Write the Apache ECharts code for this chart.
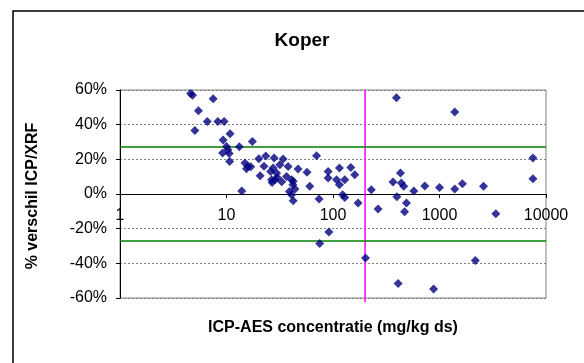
<!DOCTYPE html>
<html><head><meta charset="utf-8">
<script src="https://cdn.jsdelivr.net/npm/echarts@6/dist/echarts.min.js"></script>
<style>html,body{margin:0;padding:0;background:#fff}#c{width:584px;height:363px}</style>
</head><body><div id="c"></div>
<script>
// ICP-AES concentration (mg/kg ds)
const icpConc = [4.6,4.8,5.45,5.05,7.5,6.6,8.3,9.5,10.8,9.3,10.0,9.2,10.3,10.6,10.7,13.2,17.5,14.9,15.9,16.9,15.4,20.1,23.4,20.7,13.9,28,34,22.5,27.4,29.5,37.9,47,57,28.5,36.6,42.3,44,60.5,70,90,115,90,108,129,42.3,74,129,40.8,31.7,39,147,160,115,123,172,229,265,366,430,438,462,398,490,470,574,728,1000,394,1390,7540,7540,1390,1640,2590,3380,2170,409,880,91.5,75,202,26.5,26,30,33,42,40.8,26.8];
// % verschil ICP/XRF
const pctDiff = [58,57,48,36.7,54.9,41.8,41.8,41.8,34.7,31.2,27.4,23.6,25.5,23.4,18.8,27.3,30.3,17.9,16.0,15.7,14.6,20.3,21.9,10.5,1.8,20.7,20.2,16,15,12.1,15.9,14.4,12.5,8.2,10.1,7.3,2.9,4.4,22,13,15,9.2,8.2,8.2,-3.9,-2.9,-2,-0.5,16.9,1.5,15.3,11.1,5.4,-0.4,-5.2,2.5,-8.6,6.9,12.1,6.4,4.4,-1.6,-5.2,-10.3,1.7,4.6,3.7,55.5,47.3,20.7,8.8,2.9,5.9,4.4,-11.4,-38.3,-51.7,-54.8,-21.9,-28.6,-36.9,8.2,13,9.5,7,5.4,8.2,6.7];
const limits = [27, -27];          // green limit lines (%)
const thresholdConc = 200;          // magenta vertical line
const thresholdSpan = [60, -62.5];
const yTicks = [-60, -40, -20, 0, 20, 40, 60];
const xTicks = [1, 10, 100, 1000, 10000];

const points = icpConc.map((c, i) => [c, pctDiff[i]]);
const chart = echarts.init(document.getElementById('c'));
const FONT = 'Arial, "Liberation Sans", sans-serif';
const GRID_TOP = 90, GRID_H = 208;
const yMin = yTicks[0], yMax = yTicks[yTicks.length - 1];
// move the x axis up to the 0% line
const zeroOffset = -GRID_H * (0 - yMin) / (yMax - yMin);
chart.setOption({
  animation: false,
  backgroundColor: '#fff',
  grid: {left: 120, top: GRID_TOP, width: 426, height: GRID_H, show: true, borderColor: '#808080', borderWidth: 1, backgroundColor: 'transparent'},
  xAxis: {
    type: 'log', logBase: 10, min: xTicks[0], max: xTicks[xTicks.length - 1],
    position: 'bottom', offset: zeroOffset,
    axisLine: {onZero: false, lineStyle: {color: '#000', width: 1}},
    axisTick: {show: true, length: 4, lineStyle: {color: '#000'}},
    axisLabel: {color: '#000', fontFamily: FONT, fontSize: 16, margin: 14, showMinLabel: true, showMaxLabel: true, hideOverlap: false,
      formatter: v => String(Math.round(v))},
    splitLine: {show: false}, minorTick: {show: false}
  },
  yAxis: {
    type: 'value', min: yMin, max: yMax, interval: 20,
    axisLine: {show: true, onZero: false, lineStyle: {color: '#000', width: 1}},
    axisTick: {show: true, length: 4, lineStyle: {color: '#000'}},
    axisLabel: {color: '#000', fontFamily: FONT, fontSize: 16, margin: 13, formatter: '{value}%'},
    splitLine: {show: true, lineStyle: {color: '#808080', type: [2, 2], width: 1}}
  },
  series: [
    {
      type: 'line', data: thresholdSpan.map(v => [thresholdConc, v]), clip: false,
      symbol: 'none', lineStyle: {color: '#FF00FF', width: 1.5}, z: 2, silent: true,
      markLine: {
        symbol: 'none', silent: true, label: {show: false},
        lineStyle: {color: '#008000', type: 'solid', width: 1.5},
        data: limits.map(v => ({yAxis: v}))
      }
    },
    {
      type: 'scatter', data: points, symbol: 'diamond', symbolSize: 9,
      itemStyle: {color: '#000080'}, z: 5
    }
  ],
  graphic: [
    {type: 'rect', shape: {x: 13, y: 11, width: 640, height: 420}, style: {fill: 'none', stroke: '#000', lineWidth: 1.5}, z: 0},
    {type: 'text', x: 302, y: 41, style: {text: 'Koper', font: 'bold 19px ' + FONT, fill: '#000', textAlign: 'center', textVerticalAlign: 'middle'}},
    {type: 'text', x: 333, y: 328, style: {text: 'ICP-AES concentratie (mg/kg ds)', font: 'bold 16px ' + FONT, fill: '#000', textAlign: 'center', textVerticalAlign: 'middle'}},
    {type: 'text', x: 33, y: 196, rotation: Math.PI / 2, style: {text: '% verschil ICP/XRF', font: 'bold 16px ' + FONT, fill: '#000', textAlign: 'center', textVerticalAlign: 'middle'}}
  ]
});
</script></body></html>
